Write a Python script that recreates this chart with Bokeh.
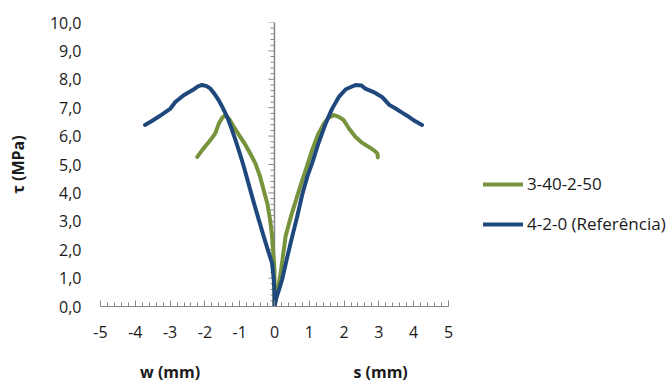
import numpy as np
from bokeh.plotting import figure
from bokeh.models import (Span, Legend, LegendItem, SingleIntervalTicker, FixedTicker,
                          LinearAxis, Range1d)
from bokeh.embed import file_html
from bokeh.resources import INLINE

# ---- data ----
series_names = ["3-40-2-50", "4-2-0 (Referência)"]

green_x = [-2.22, -2.05, -1.84, -1.70, -1.60, -1.50, -1.41, -1.30, -1.17, -1.00, -0.83, -0.68,
           -0.55, -0.42, -0.30, -0.20, -0.12, -0.07, -0.03, 0.00, 0.00, 0.00,
           0.08, 0.18, 0.32, 0.48, 0.65, 0.80, 0.95, 1.08, 1.25, 1.42, 1.55, 1.71,
           1.85, 1.99, 2.15, 2.33, 2.50, 2.71, 2.88, 2.96, 2.97]
green_y = [5.27, 5.55, 5.86, 6.10, 6.44, 6.65, 6.74, 6.60, 6.33, 6.00, 5.68, 5.35,
           5.04, 4.60, 4.05, 3.60, 3.00, 2.47, 1.80, 1.30, 0.60, 0.00,
           0.50, 1.20, 2.47, 3.20, 3.87, 4.45, 5.00, 5.50, 6.05, 6.44, 6.65, 6.74,
           6.68, 6.56, 6.25, 5.97, 5.78, 5.62, 5.48, 5.38, 5.25]

blue_x = [-3.72, -3.50, -3.25, -2.99, -2.85, -2.61, -2.35, -2.20, -2.08, -1.95, -1.84, -1.72,
          -1.60, -1.48, -1.36, -1.24, -1.12, -1.00, -0.88, -0.74, -0.59, -0.45, -0.31,
          -0.18, -0.07, -0.02, 0.00, 0.00,
          0.05, 0.12, 0.22, 0.35, 0.51, 0.65, 0.80, 0.95, 1.08, 1.25, 1.47, 1.65, 1.85,
          2.05, 2.33, 2.50, 2.61, 2.85, 3.09, 3.30, 3.48, 3.70, 3.86, 4.05, 4.24]
blue_y = [6.39, 6.55, 6.75, 6.97, 7.20, 7.44, 7.62, 7.75, 7.80, 7.76, 7.67, 7.48,
          7.26, 6.98, 6.68, 6.28, 5.86, 5.40, 4.92, 4.30, 3.64, 3.05, 2.47,
          1.95, 1.53, 0.95, 0.40, 0.00,
          0.30, 0.55, 0.95, 1.65, 2.47, 3.15, 3.95, 4.60, 5.04, 5.70, 6.44, 6.95, 7.38,
          7.65, 7.80, 7.78, 7.67, 7.55, 7.38, 7.10, 6.97, 6.80, 6.68, 6.52, 6.39]

x_ticks = [-5, -4, -3, -2, -1, 0, 1, 2, 3, 4, 5]
x_tick_labels = ["-5", "-4", "-3", "-2", "-1", "0", "1", "2", "3", "4", "5"]
y_ticks = [0, 1, 2, 3, 4, 5, 6, 7, 8, 9, 10]
y_tick_labels = ["0,0", "1,0", "2,0", "3,0", "4,0", "5,0", "6,0", "7,0", "8,0", "9,0", "10,0"]

y_title = "τ (MPa)"
sub_title_pos = [-3.0, 3.05]
sub_titles = ["w (mm)", "s (mm)"]

# ---- style ----
GREEN = "#77933C"
BLUE = "#1F497D"
AXIS = "#868686"
TXT = "#1a1a1a"
FONT = "Open Sans"

# the frame runs to the right edge so that the legend can sit inside it;
# the visible x axis is limited to [-5, 5] with `bounds`
p = figure(width=671, height=385, output_backend="svg", toolbar_location=None,
           x_range=Range1d(-5, 11.41), y_range=Range1d(0, 10),
           min_border_left=100, min_border_right=0, min_border_top=22, min_border_bottom=78)
p.outline_line_color = None
p.xgrid.grid_line_color = None
p.ygrid.grid_line_color = None
p.background_fill_color = "white"
p.border_fill_color = "white"

# bottom axis
xa = p.xaxis[0]
xa.bounds = (x_ticks[0], x_ticks[-1])
xa.ticker = SingleIntervalTicker(interval=1, num_minor_ticks=5)
xa.major_label_overrides = {t: l for t, l in zip(x_ticks, x_tick_labels)}
xa.axis_line_color = AXIS
xa.major_tick_line_color = AXIS
xa.minor_tick_line_color = AXIS
xa.major_tick_in = 6
xa.major_tick_out = 0
xa.minor_tick_in = 4
xa.minor_tick_out = 0
xa.major_label_standoff = 19
xa.major_label_text_font = FONT
xa.major_label_text_font_size = "16px"
xa.major_label_text_color = TXT

# second bottom axis carrying the two sub titles
sub = LinearAxis(ticker=FixedTicker(ticks=sub_title_pos),
                 major_label_overrides={t: l for t, l in zip(sub_title_pos, sub_titles)})
sub.axis_line_color = None
sub.major_tick_line_color = None
sub.minor_tick_line_color = None
sub.major_tick_in = 0
sub.major_tick_out = 0
sub.major_label_standoff = 20
sub.major_label_text_font = FONT
sub.major_label_text_font_size = "16px"
sub.major_label_text_font_style = "bold"
sub.major_label_text_color = TXT
p.add_layout(sub, "below")

# left axis: labels only
ya = p.yaxis[0]
ya.ticker = SingleIntervalTicker(interval=1, num_minor_ticks=0)
ya.major_label_overrides = {t: l for t, l in zip(y_ticks, y_tick_labels)}
ya.axis_line_color = None
ya.major_tick_line_color = None
ya.minor_tick_line_color = None
ya.major_tick_in = 0
ya.major_tick_out = 0
ya.major_label_standoff = 19
ya.major_label_text_font = FONT
ya.major_label_text_font_size = "16px"
ya.major_label_text_color = TXT
ya.axis_label = y_title
ya.axis_label_text_font = FONT
ya.axis_label_text_font_size = "16px"
ya.axis_label_text_font_style = "bold"
ya.axis_label_text_color = TXT
ya.axis_label_standoff = 18

# central vertical axis at x = 0
p.add_layout(Span(location=0, dimension="height", line_color=AXIS, line_width=1.5, level="underlay"))
minor_y = np.round(np.arange(0, 10.001, 0.2), 2)
minor_y = [v for v in minor_y if abs(v - round(v)) > 1e-6]
p.ray(x=[0] * len(minor_y), y=minor_y, length=4, angle=np.pi, length_units="screen",
      line_color=AXIS, line_width=1)
p.ray(x=[0] * len(y_ticks), y=y_ticks, length=6, angle=np.pi, length_units="screen",
      line_color=AXIS, line_width=1)

# data lines
g = p.line(green_x, green_y, line_color=GREEN, line_width=4, line_join="round", line_cap="round")
b = p.line(blue_x, blue_y, line_color=BLUE, line_width=4, line_join="round", line_cap="round")

legend = Legend(items=[LegendItem(label=series_names[0], renderers=[g]),
                       LegendItem(label=series_names[1], renderers=[b])],
                location=(383, 71), padding=0, margin=0, spacing=17,
                glyph_width=40, glyph_height=20, label_height=20, label_standoff=4,
                label_text_font=FONT, label_text_font_size="17px", label_text_color=TXT,
                border_line_color=None, background_fill_alpha=0)
p.add_layout(legend, "center")

open("out.html", "w").write(file_html(p, INLINE))
